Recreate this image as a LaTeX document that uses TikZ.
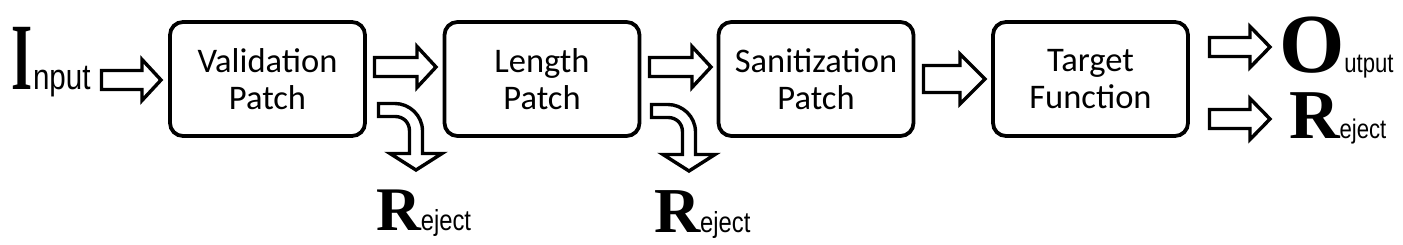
\documentclass[tikz,border=0pt]{standalone}
\usepackage{graphicx}
\usepackage{fontspec}
\setmainfont{Carlito}
\newfontfamily\tnr{Liberation Serif}
\newfontfamily\narrow[FakeStretch=0.82]{Liberation Sans}
\usetikzlibrary{calc}
\tikzset{
  patch/.style={draw, line width=3.8pt, rounded corners=13pt, minimum width=195pt,
    minimum height=114pt, align=center, inner sep=0pt,
    font=\fontsize{34.5}{37.5}\selectfont},
  barrow/.style={draw, line width=3.4pt, fill=white, line join=miter},
  lbl/.style={anchor=base west, inner sep=0pt, outer sep=0pt}
}
\newcommand\sarrow[5]{% start, end, body half, head half, head length
  \draw[barrow] ($(#1)+(0,-#3)$) -- ($(#2)+(-#5,-#3)$) -- ($(#2)+(-#5,-#4)$) -- (#2)
    -- ($(#2)+(-#5,#4)$) -- ($(#2)+(-#5,#3)$) -- ($(#1)+(0,#3)$) -- cycle;}
\newcommand\rarrow[1]{% curved reject arrow from a named start corner
  \begin{scope}[shift={(#1)}]
  \draw[barrow] (0,0) -- (16.5,0) .. controls (31,0) and (44,12) .. (44,27.5) -- (44,50)
    -- (63.5,50) -- (37.5,66.5) -- (11.5,50) -- (31,50) -- (31,27.5)
    .. controls (31,19) and (25,13) .. (16.5,13) -- (0,13) -- cycle;
  \end{scope}}
\newcommand\bigser[1]{\tnr\bfseries\fontsize{#1}{#1}\selectfont}
\newcommand\smallsans[1]{\narrow\mdseries\fontsize{#1}{#1}\selectfont}
\newcommand\capbox[1]{\raisebox{0pt}[0.69em][0pt]{#1}}
\begin{document}
\begin{tikzpicture}[x=1pt,y=-1pt]
\useasboundingbox (0,0) rectangle (1403,245);
% boxes
\node[patch] (val) at (267.5,79) {Validation\\Patch};
\node[patch] (len) at (542,79) {Length\\Patch};
\node[patch] (san) at (816,79) {Sanitization\\Patch};
\node[patch] (tgt) at (1090.5,79) {Target\\Function};
% labels
\node[lbl] (in) at (12,90) {\bigser{95}\capbox{\scalebox{0.57}[1]{I}}\smallsans{36}\raisebox{0pt}[0.6em][0.2em]{nput}};
\node[lbl] (out) at (1279,73) {\vtop{%
  \hbox{\bigser{84}\capbox{O}\smallsans{27}\raisebox{0pt}[0.6em][0pt]{utput}}%
  \kern16.7pt
  \hbox{\hspace{10pt}\bigser{70}\capbox{R}\smallsans{27}\raisebox{0pt}[0.6em][0.2em]{eject}}}};
\node[lbl] (rej1) at (376,231) {\bigser{62}\capbox{R}\smallsans{29}eject};
\node[lbl] (rej2) at (654,233) {\bigser{64}\capbox{R}\smallsans{29}eject};
% arrow end points
\coordinate (in-s) at (101.5,80);  \coordinate (in-e) at (161,80);
\coordinate (a12-s) at (374.5,67); \coordinate (a12-e) at (436,67);
\coordinate (a23-s) at (649.5,67); \coordinate (a23-e) at (711,67);
\coordinate (a34-s) at (923.5,79); \coordinate (a34-e) at (985,79);
\coordinate (o1-s) at (1209.5,47); \coordinate (o1-e) at (1270,47);
\coordinate (o2-s) at (1209.5,119); \coordinate (o2-e) at (1270,119);
\coordinate (r1-s) at (378.5,103.5);
\coordinate (r2-s) at (651.5,104.5);
\sarrow{in-s}{in-e}{9.5}{20.5}{19}
\sarrow{a12-s}{a12-e}{9.5}{20.5}{19}
\sarrow{a23-s}{a23-e}{9.5}{20.5}{19}
\sarrow{a34-s}{a34-e}{13.5}{25}{25}
\sarrow{o1-s}{o1-e}{9.5}{20.5}{20}
\sarrow{o2-s}{o2-e}{9.5}{20.5}{20}
\rarrow{r1-s}
\rarrow{r2-s}
\end{tikzpicture}
\end{document}
